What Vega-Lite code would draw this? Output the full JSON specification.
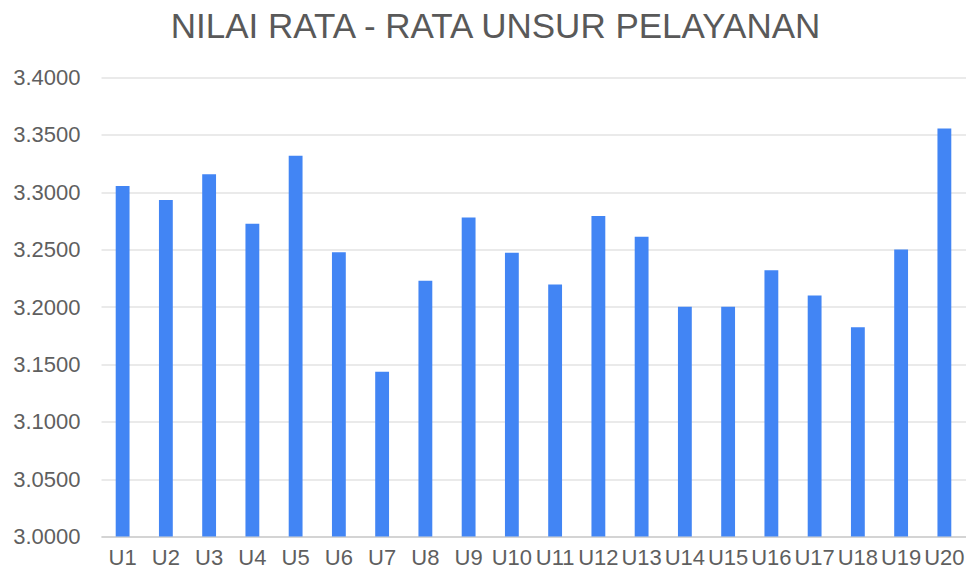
{
  "$schema": "https://vega.github.io/schema/vega-lite/v6.json",
  "autosize": "none",
  "width": 865,
  "height": 459,
  "padding": {"left": 101, "top": 77.5, "right": 0, "bottom": 38.5},
  "background": "white",
  "title": {
    "text": "NILAI RATA - RATA UNSUR PELAYANAN",
    "font": "Liberation Sans",
    "fontSize": 35,
    "fontWeight": "normal",
    "color": "#595959",
    "anchor": "middle",
    "frame": "group",
    "offset": 0,
    "dx": -38,
    "dy": -22
  },
  "data": {
    "values": [
      {"unsur": "U1", "nilai": 3.3054},
      {"unsur": "U2", "nilai": 3.2932},
      {"unsur": "U3", "nilai": 3.3156},
      {"unsur": "U4", "nilai": 3.2726},
      {"unsur": "U5", "nilai": 3.3319},
      {"unsur": "U6", "nilai": 3.2478},
      {"unsur": "U7", "nilai": 3.1435},
      {"unsur": "U8", "nilai": 3.2229},
      {"unsur": "U9", "nilai": 3.2781},
      {"unsur": "U10", "nilai": 3.2473},
      {"unsur": "U11", "nilai": 3.2196},
      {"unsur": "U12", "nilai": 3.2792},
      {"unsur": "U13", "nilai": 3.2612},
      {"unsur": "U14", "nilai": 3.2002},
      {"unsur": "U15", "nilai": 3.2002},
      {"unsur": "U16", "nilai": 3.2321},
      {"unsur": "U17", "nilai": 3.21},
      {"unsur": "U18", "nilai": 3.1824},
      {"unsur": "U19", "nilai": 3.2502},
      {"unsur": "U20", "nilai": 3.3555}
    ]
  },
  "mark": {"type": "bar", "color": "#4285F4", "clip": true},
  "encoding": {
    "x": {
      "field": "unsur",
      "type": "nominal",
      "sort": null,
      "scale": {"paddingInner": 0.68, "paddingOuter": 0.34},
      "axis": {
        "title": null,
        "labelAngle": 0,
        "labelFont": "Liberation Sans",
        "labelFontSize": 22,
        "labelColor": "#5f5f5f",
        "labelPadding": 11,
        "ticks": false,
        "domain": true,
        "domainColor": "#cccccc",
        "domainWidth": 1.5,
        "grid": false
      }
    },
    "y": {
      "field": "nilai",
      "type": "quantitative",
      "scale": {"domain": [3.0, 3.4], "zero": false, "nice": false},
      "axis": {
        "title": null,
        "values": [3.0, 3.05, 3.1, 3.15, 3.2, 3.25, 3.3, 3.35, 3.4],
        "format": ".4f",
        "labelFont": "Liberation Sans",
        "labelFontSize": 22,
        "labelColor": "#5f5f5f",
        "labelPadding": 21,
        "ticks": false,
        "domain": false,
        "grid": true,
        "gridColor": "#e3e3e3",
        "gridWidth": 1.5
      }
    }
  },
  "config": {"view": {"stroke": null}}
}
